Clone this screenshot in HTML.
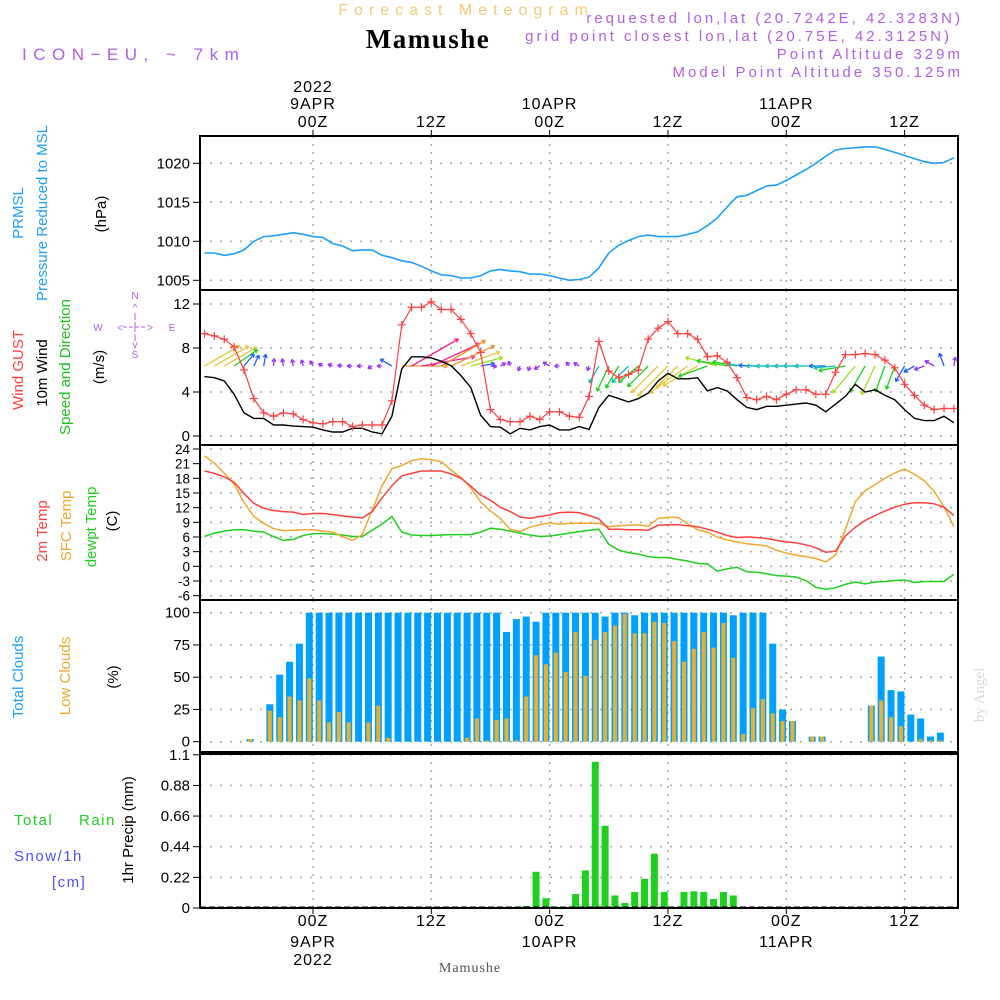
<!DOCTYPE html>
<html><head><meta charset="utf-8"><style>
html,body{margin:0;padding:0;background:#fff;}
svg{display:block;font-family:"Liberation Sans",sans-serif;}
</style></head><body>
<svg id="chart" width="1000" height="1000" viewBox="0 0 1000 1000" xmlns="http://www.w3.org/2000/svg">
<rect width="1000" height="1000" fill="#fff"/>
<text x="466" y="15" text-anchor="middle" font-size="16" fill="#f5c97a" letter-spacing="6">Forecast Meteogram</text>
<text x="428" y="48" text-anchor="middle" font-family="Liberation Serif, serif" font-weight="bold" font-size="27" fill="#000" letter-spacing="1.5">Mamushe</text>
<text x="22" y="60" font-size="17" fill="#b060e8" letter-spacing="6.5">ICON−EU, ~ 7km</text>
<g font-size="15" fill="#b060e8" text-anchor="end" letter-spacing="3">
<text x="963" y="23">requested lon,lat (20.7242E, 42.3283N)</text>
<text x="952" y="41">grid point closest lon,lat (20.75E, 42.3125N)</text>
<text x="963" y="59">Point Altitude 329m</text>
<text x="963" y="77">Model Point Altitude 350.125m</text>
</g>
<text transform="translate(984,695) rotate(-90)" text-anchor="middle" font-family="Liberation Serif, serif" font-size="15" fill="#d8d8d8">by Angel</text>
<text x="470" y="972" text-anchor="middle" font-family="Liberation Serif, serif" font-size="14" fill="#555" letter-spacing="1">Mamushe</text>

<g font-size="15">
<text transform="translate(23,213) rotate(-90)" text-anchor="middle" fill="#1ea0ff">PRMSL</text>
<text transform="translate(47,213) rotate(-90)" text-anchor="middle" fill="#1ea0ff">Pressure Reduced to MSL</text>
<text transform="translate(106,214) rotate(-90)" text-anchor="middle" fill="#000">(hPa)</text>
<text transform="translate(23,370) rotate(-90)" text-anchor="middle" fill="#ff4040">Wind GUST</text>
<text transform="translate(47,373) rotate(-90)" text-anchor="middle" fill="#000">10m Wind</text>
<text transform="translate(70,367) rotate(-90)" text-anchor="middle" fill="#20c020">Speed and Direction</text>
<text transform="translate(104,367) rotate(-90)" text-anchor="middle" fill="#000">(m/s)</text>
<text transform="translate(47,531) rotate(-90)" text-anchor="middle" fill="#ff4040">2m Temp</text>
<text transform="translate(71,526) rotate(-90)" text-anchor="middle" fill="#f0a830">SFC Temp</text>
<text transform="translate(96,527) rotate(-90)" text-anchor="middle" fill="#20d020">dewpt Temp</text>
<text transform="translate(117,521) rotate(-90)" text-anchor="middle" fill="#000">(C)</text>
<text transform="translate(23,677) rotate(-90)" text-anchor="middle" fill="#1ea0ff">Total Clouds</text>
<text transform="translate(70,676) rotate(-90)" text-anchor="middle" fill="#f0a830">Low Clouds</text>
<text transform="translate(118,677) rotate(-90)" text-anchor="middle" fill="#000">(%)</text>
<text transform="translate(133,830) rotate(-90)" text-anchor="middle" fill="#000">1hr Precip (mm)</text>
<text x="14" y="825" fill="#20d020" letter-spacing="1.5">Total</text>
<text x="79" y="825" fill="#20d020" letter-spacing="1.5">Rain</text>
<text x="14" y="861" fill="#5050ff" letter-spacing="1.5">Snow/1h</text>
<text x="52" y="887" fill="#5050ff" letter-spacing="1.5">[cm]</text>
</g>
<g font-size="10" fill="#b060e8" text-anchor="middle">
<text x="135" y="299">N</text><text x="135" y="311">^</text>
<line x1="135" y1="313" x2="135" y2="320" stroke="#b060e8"/>
<text x="98" y="331">W</text><text x="172" y="331">E</text>
<text x="120" y="331">&lt;</text><text x="150" y="331">&gt;</text>
<line x1="123" y1="327" x2="147" y2="327" stroke="#b060e8" stroke-dasharray="4 2"/>
<line x1="135" y1="322" x2="135" y2="332" stroke="#b060e8"/>
<line x1="135" y1="334" x2="135" y2="341" stroke="#b060e8"/>
<text x="135" y="348">v</text>
<text x="135" y="358">S</text>
</g>
<g id="plots"></g>
</svg>
<script>
// ---------- data ----------
const hourStart = -11; // hours relative to 00Z 9APR
const pressure = [1008.5,1008.5,1008.2,1008.4,1008.9,1010.0,1010.6,1010.7,1010.9,1011.1,1010.9,1010.6,1010.5,1009.7,1009.4,1008.8,1008.9,1008.9,1008.2,1007.9,1007.5,1007.3,1006.8,1006.2,1005.7,1005.6,1005.3,1005.3,1005.6,1006.2,1006.4,1006.2,1006.1,1005.8,1005.8,1005.6,1005.3,1005.0,1005.1,1005.4,1006.6,1008.5,1009.5,1010.1,1010.6,1010.8,1010.6,1010.6,1010.6,1010.9,1011.2,1012.0,1013.0,1014.4,1015.7,1015.9,1016.5,1017.1,1017.2,1017.8,1018.5,1019.2,1020.0,1020.9,1021.7,1021.9,1022.0,1022.1,1022.1,1021.8,1021.4,1021.0,1020.6,1020.2,1020.0,1020.1,1020.7];
const windGust = [9.3,9.1,8.8,8.1,6.0,3.4,2.1,1.8,2.1,2.0,1.5,1.2,1.1,1.3,1.3,0.85,1.0,1.0,1.0,3.2,10.1,11.7,11.7,12.2,11.5,11.5,10.6,9.3,7.6,2.4,1.5,1.3,1.3,1.8,1.5,2.2,2.2,1.8,1.7,3.6,8.6,5.9,5.3,5.6,6.0,8.8,9.8,10.4,9.3,9.3,8.8,7.2,7.3,6.7,5.3,3.5,3.3,3.6,3.3,3.8,4.2,4.2,3.8,3.8,5.8,7.4,7.4,7.5,7.4,6.9,6.2,4.7,3.7,2.8,2.4,2.5,2.5];
const windSpeed = [5.4,5.3,5.0,3.8,2.1,1.6,1.6,1.0,1.0,0.9,0.85,0.8,0.55,0.36,0.36,0.7,0.7,0.36,0.2,1.8,6.1,7.2,7.2,7.1,6.8,6.4,5.5,4.4,1.9,0.85,0.8,0.2,0.7,0.55,0.85,1.0,0.55,0.55,0.85,0.6,2.6,3.7,3.4,3.1,3.4,3.9,5.0,5.7,5.2,5.2,5.3,4.1,4.4,4.1,3.3,2.6,2.4,2.7,2.7,2.8,2.9,3.0,2.8,2.2,2.9,3.6,4.7,4.0,4.2,3.7,3.3,2.4,1.6,1.4,1.4,1.8,1.2];
const windToDir = [60,60,60,55,40,25,10,5,350,350,345,330,300,290,280,270,270,240,270,300,90,60,80,65,60,65,70,75,80,95,60,340,200,200,240,300,270,320,300,200,210,205,210,225,230,225,225,225,225,235,240,250,285,280,280,275,272,270,270,270,270,270,270,270,265,260,220,210,205,200,200,210,240,250,300,340,10];
const temp2m = [19.5,19.0,18.3,17.2,14.9,12.9,11.9,11.4,11.2,11.1,10.6,10.8,10.8,10.6,10.3,10.1,9.9,11.2,14.0,16.5,18.5,19.0,19.5,19.5,19.5,18.9,18.0,16.4,14.6,13.5,12.1,11.2,10.1,9.8,10.2,10.5,11.0,11.1,11.0,10.4,9.7,7.6,7.6,7.5,7.5,7.4,8.4,8.5,8.5,8.3,8.1,7.6,7.0,6.3,5.9,6.0,5.9,5.7,5.3,5.0,4.8,4.4,3.8,2.9,3.1,6.2,8.0,9.4,10.4,11.3,12.1,12.7,13.0,13.0,12.8,12.1,10.4];
const tempSfc = [22.6,21.1,19.0,16.8,13.1,10.2,8.8,7.7,7.3,7.4,7.5,7.5,7.2,7.0,6.1,5.3,6.5,11.5,16.5,20.0,20.6,21.6,22.0,21.8,21.4,19.7,18.2,16.1,13.2,11.3,9.8,7.6,7.1,8.0,8.5,8.9,8.6,8.8,8.8,8.8,8.8,8.1,8.3,8.4,8.5,8.2,9.8,10.0,10.0,8.7,7.5,7.0,6.0,5.4,5.0,4.6,4.4,4.2,3.3,2.7,2.3,2.0,1.6,0.9,2.3,7.6,13.2,15.5,16.7,18.0,19.1,19.9,18.8,17.5,15.3,12.2,8.1];
const tempDew = [6.1,6.8,7.2,7.5,7.5,7.2,7.0,6.1,5.3,5.5,6.3,6.7,6.7,6.6,6.4,6.1,6.1,7.4,8.6,10.2,7.0,6.4,6.3,6.3,6.4,6.5,6.5,6.5,7.0,7.8,7.6,7.2,6.8,6.4,6.1,6.2,6.5,6.8,7.1,7.4,7.6,4.5,3.3,2.8,2.5,2.0,1.8,1.8,1.4,1.1,0.6,0.5,-1.0,-0.5,-0.2,-1.1,-1.2,-1.5,-1.9,-2.0,-2.2,-2.9,-4.3,-4.7,-4.4,-3.7,-3.2,-3.6,-3.2,-3.1,-2.9,-2.8,-3.3,-3.1,-3.1,-3.1,-1.6];
const cloudTotal = [0,0,0,0,0,2,0,29,52,62,76,100,100,100,100,100,100,100,100,100,100,100,100,100,100,100,100,100,100,100,100,85,95,97,93,100,100,100,100,100,100,97,100,100,98,100,100,100,100,100,100,100,100,100,98,100,100,100,76,25,16,0,4,4,0,0,0,0,28,66,40,39,21,18,4,7,0];
const cloudLow = [0,0,0,0,0,2,0,24,19,35,32,49,32,15,23,15,0,15,28,3,0,0,0,0,0,0,0,3,18,1,17,18,1,35,67,60,69,54,85,51,79,85,90,99,84,84,93,92,78,62,72,85,73,92,65,6,26,33,22,16,16,0,4,4,0,0,0,0,28,32,19,12,0,2,1,1,0];
const precipHours = [22,23,24,27,28,29,30,31,32,33,34,35,36,37,38,39,40,41,42,43,44];
const precipValues = [0.014,0.26,0.07,0.10,0.27,1.05,0.59,0.09,0.036,0.115,0.21,0.39,0.115,0.007,0.115,0.12,0.115,0.065,0.115,0.09,0.007];
const pressTicks = [1005,1010,1015,1020];
const windTicks = [0,4,8,12];
const tempTicks = [24,21,18,15,12,9,6,3,0,-3,-6];
const cloudTicks = [0,25,50,75,100];
const precipTicks = [0,0.22,0.44,0.66,0.88,1.1];
const timeTicks = [0,12,24,36,48,60];
const topDayLabels = [[0,"2022","9APR"],[24,null,"10APR"],[48,null,"11APR"]];

// ---------- scales ----------
const X0=200, X1=958;
const xh = h => 313 + h*9.86;
const yP = v => 280.3 - (v-1005)*7.8;
const yW = v => 436 - v*11;
const yT = v => 449 + (24-v)*4.889;
const yC = v => 741.7 - v*1.29;
const yR = v => 908 - v*139.3;
const panels = [[136,290,'pressure-panel'],[290,445,'wind-panel'],[445,600,'temperature-panel'],[600,752,'cloud-panel'],[754,908,'precip-panel']];

const NS='http://www.w3.org/2000/svg';
const root=document.getElementById('plots');
function mk(tag,attrs,parent){const e=document.createElementNS(NS,tag);for(const k in attrs)e.setAttribute(k,attrs[k]);(parent||root).appendChild(e);return e;}

function hgrid(ticks,fn,name,fmt,fs){
  const g=mk('g',{});
  
  
  ticks.forEach(t=>{
    const y=fn(t);
    mk('line',{x1:X0,x2:X1,y1:y,y2:y,stroke:'#aaa','stroke-width':1.5,'stroke-dasharray':'2 8'},g);
    mk('line',{x1:193,x2:X0,y1:y,y2:y,stroke:'#000','stroke-width':1},g);
    const tx=mk('text',{x:190,y:y+5,'text-anchor':'end','font-size':fs,fill:'#000'},g);
    tx.textContent=fmt(t);
  });
}
panels.forEach(([a,b])=>{
  timeTicks.forEach(h=>{
    const x=xh(h);
    const l=mk('line',{x1:x,x2:x,y1:a,y2:b,stroke:'#aaa','stroke-width':1.5,'stroke-dasharray':'2 6'});
    
    
  });
});
hgrid(pressTicks,yP,'pressure-axis',t=>String(t),15);
hgrid(windTicks,yW,'wind-axis',t=>String(t),15);
hgrid(tempTicks,yT,'temperature-axis',t=>String(t),13.5);
hgrid(cloudTicks,yC,'cloud-axis',t=>String(t),15);
hgrid(precipTicks,yR,'precip-axis',t=>String(t),15);

function line(data,fy,color,name,w){
  const pts=data.map((v,i)=>xh(hourStart+i).toFixed(1)+','+fy(v).toFixed(1)).join(' ');
  const p=mk('polyline',{points:pts,fill:'none',stroke:color,'stroke-width':w||1.5,'clip-path':'url(#clipAll)'});
  
  
  return p;
}
const defs=mk('defs',{});
const cp=mk('clipPath',{id:'clipAll'},defs);
mk('rect',{x:X0,y:0,width:X1-X0,height:1000},cp);

line(pressure,yP,'#1ea0ff','pressure-line',1.6);

function arrowColor(s){
  if(s<1.5) return '#9b30ff';
  if(s<2.5) return '#2060ff';
  if(s<3.2) return '#10c0c0';
  if(s<4.2) return '#20d020';
  if(s<5.0) return '#a0e020';
  if(s<6.0) return '#e8c840';
  if(s<7.0) return '#f09030';
  return '#ff2090';
}
const wg=mk('g',{'clip-path':'url(#clipAll)'});


windSpeed.forEach((s,i)=>{
  const x=xh(hourStart+i), y=366;
  const a=windToDir[i]*Math.PI/180;
  const L=Math.max(5,s*7.5);
  const ex=x+Math.sin(a)*L, ey=y-Math.cos(a)*L;
  const c=arrowColor(s);
  const ag=mk('g',{stroke:c,'stroke-width':1.3,fill:'none'},wg);
  
  
  mk('line',{x1:x,y1:y,x2:ex,y2:ey},ag);
  const hl=4;
  [a+Math.PI*0.83,a-Math.PI*0.83].forEach(b=>{
    mk('line',{x1:ex,y1:ey,x2:ex+Math.sin(b)*hl,y2:ey-Math.cos(b)*hl},ag);
  });
});
line(windSpeed,yW,'#000','wind-speed-line',1.4);
line(windGust,yW,'#ff4040','wind-gust-line',1.2);
const gm=mk('g',{stroke:'#ff4040','stroke-width':1.2,'clip-path':'url(#clipAll)'});


windGust.forEach((v,i)=>{
  const x=xh(hourStart+i), y=yW(v);
  mk('line',{x1:x-4,x2:x+4,y1:y,y2:y},gm);
  mk('line',{x1:x,x2:x,y1:y-4,y2:y+4},gm);
});

line(tempDew,yT,'#20d020','dewpoint-line',1.5);
line(tempSfc,yT,'#f0a830','sfc-temp-line',1.5);
line(temp2m,yT,'#ff4040','temp-2m-line',1.5);

cloudTotal.forEach((v,i)=>{
  const h=hourStart+i, cx=xh(h)-3.7;
  if(v>0){
    const r=mk('rect',{x:cx-3.5,y:yC(v),width:7,height:yC(0)-yC(v),fill:'#00a0ff'});
    
    
  }
  const lv=cloudLow[i];
  if(lv>0){
    const r2=mk('rect',{x:cx-2,y:yC(lv),width:4,height:yC(0)-yC(lv),fill:'#e8b030'});
    
    
  }
});

precipHours.forEach((h,i)=>{
  const v=precipValues[i], cx=xh(h)-3.7;
  const r=mk('rect',{x:cx-3.5,y:yR(v),width:7,height:yR(0)-yR(v),fill:'#20d020'});
  
  
});
const zl=mk('line',{x1:X0,x2:X1,y1:907,y2:907,stroke:'#000','stroke-width':1,'stroke-dasharray':'6 3'});



panels.forEach(([a,b,n])=>{
  const r=mk('rect',{x:X0,y:a,width:X1-X0,height:b-a,fill:'none',stroke:'#000','stroke-width':2});
  
  
});

const ta=mk('g',{'font-size':16,fill:'#000','text-anchor':'middle','letter-spacing':'1'});


timeTicks.forEach(h=>{
  const x=xh(h);
  mk('line',{x1:x,x2:x,y1:130,y2:136,stroke:'#000'},ta);
  mk('line',{x1:x,x2:x,y1:908,y2:914,stroke:'#000'},ta);
  const lab=(h%24===0)?'00Z':'12Z';
  mk('text',{x:x,y:127},ta).textContent=lab;
  mk('text',{x:x,y:926},ta).textContent=lab;
});
topDayLabels.forEach(([h,yr,day])=>{
  const x=xh(h);
  mk('text',{x:x,y:109},ta).textContent=day;
  mk('text',{x:x,y:947},ta).textContent=day;
  if(yr){mk('text',{x:x,y:92},ta).textContent=yr;mk('text',{x:x,y:965},ta).textContent=yr;}
});
</script>
</body></html>
